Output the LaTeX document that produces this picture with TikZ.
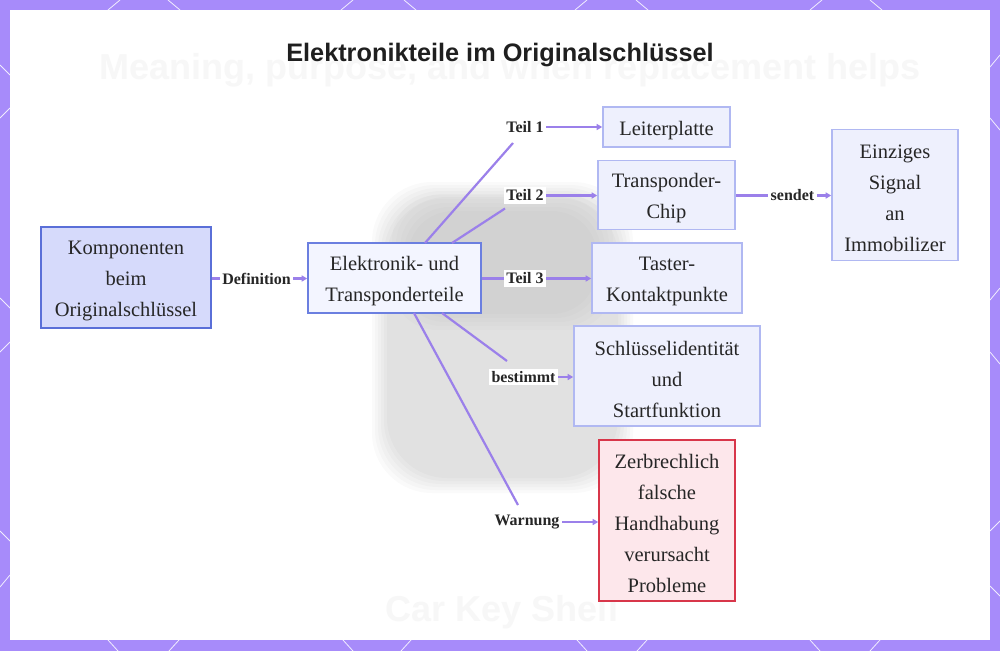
\documentclass[tikz,border=0pt]{standalone}
\usepackage{fontspec}
\setmainfont{Liberation Serif}
\newfontfamily\headfont{Liberation Sans}
\usetikzlibrary{arrows.meta,calc}
\definecolor{framec}{HTML}{A78BFA}
\definecolor{edgec}{HTML}{9B80EA}
\definecolor{kompfill}{HTML}{D6DAFB}
\definecolor{kompdraw}{HTML}{5A6FD8}
\definecolor{elekfill}{HTML}{F3F5FF}
\definecolor{elekdraw}{HTML}{6B7FE0}
\definecolor{leaffill}{HTML}{EEF0FD}
\definecolor{leafdraw}{HTML}{B0B8F2}
\definecolor{warnfill}{HTML}{FDE7EB}
\definecolor{warndraw}{HTML}{D8364A}
\newcommand\topstrut{\rule{0pt}{20.5pt}}
\tikzset{
  box/.style={draw, line width=1.6pt, inner sep=0pt, align=center,
    text=black!85, font=\fontsize{20.5}{31}\selectfont},
  kompbox/.style={box, fill=kompfill, draw=kompdraw},
  elekbox/.style={box, fill=elekfill, draw=elekdraw},
  leafbox/.style={box, fill=leaffill, draw=leafdraw},
  warnbox/.style={box, fill=warnfill, draw=warndraw},
  lbl/.style={fill=white, inner sep=2.5pt, text=black!85,
    font=\bfseries\fontsize{16}{18}\selectfont},
  conn/.style={draw=edgec, line width=2.2pt},
  arr/.style={conn, -{Triangle[length=5.5pt,width=6pt]}},
  hexline/.style={white, line width=0.8pt, opacity=0.85},
  ghost/.style={text=black!3, font=\headfont\bfseries\fontsize{36}{40}\selectfont}
}
\begin{document}
\begin{tikzpicture}[x=1pt,y=-1pt]
\useasboundingbox (0,0) rectangle (1000,651);
% frame
\fill[framec] (0,0) rectangle (1000,651);
\fill[white] (10,10) rectangle (990,640);
\foreach \a/\b/\c/\d in {120/0/108/10, 168/0/180/10, 353/0/341/10, 404/0/416/10,
  587/0/575/10, 636/0/648/10, 822/0/810/10, 870/0/882/10,
  108/640/118/651, 179/640/169/651, 343/640/353/651, 411/640/401/651,
  577/640/587/651, 647/640/637/651, 810/640/820/651, 880/640/870/651,
  0/65/10/75, 10/108/0/118, 0/298/10/308, 10/342/0/352, 0/531/10/541, 10/575/0/587,
  990/67/1000/55, 990/118/1000/130, 990/300/1000/288, 990/352/1000/364,
  990/531/1000/521, 990/586/1000/596}
  \draw[hexline] (\a,\b) -- (\c,\d);
% faint background picture
\foreach \i in {0,...,5}
  \fill[black, opacity=0.018, rounded corners=60pt]
    ({372+3*\i},{182+3*\i}) rectangle ({633-3*\i},{493-3*\i});
\foreach \i in {0,...,4}
  \fill[black, opacity=0.012, rounded corners=45pt]
    ({392+4*\i},{195+4*\i}) rectangle ({613-4*\i},{330-4*\i});
\node[ghost] (ghosttitle) at (510,70) {Meaning, purpose, and when replacement helps};
\node[ghost] (ghostcap) at (502,612) {Car Key Shell};
% title
\node[font=\headfont\bfseries\fontsize{25.3}{29}\selectfont, text=black!88] (title) at (500,55) {Elektronikteile im Originalschlüssel};
% nodes
\node[kompbox, minimum width=170pt, minimum height=101pt] (komp) at (126,277.5) {\topstrut Komponenten\\beim\\Originalschlüssel};
\node[elekbox, minimum width=173pt, minimum height=70pt] (elek) at (394.5,278) {\topstrut Elektronik- und\\Transponderteile};
\node[leafbox, minimum width=127pt, minimum height=40pt] (leit) at (666.5,127) {\topstrut Leiterplatte};
\node[leafbox, minimum width=137pt, minimum height=69pt] (trans) at (666.5,195) {\topstrut Transponder-\\Chip};
\node[leafbox, minimum width=150pt, minimum height=70pt] (taster) at (667,278) {\topstrut Taster-\\Kontaktpunkte};
\node[leafbox, minimum width=186pt, minimum height=100pt] (schl) at (667,376) {\topstrut Schlüsselidentität\\und\\Startfunktion};
\node[warnbox, minimum width=136pt, minimum height=161pt] (zerb) at (667,520.5) {\topstrut Zerbrechlich\\falsche\\Handhabung\\verursacht\\Probleme};
\node[leafbox, minimum width=126pt, minimum height=131pt] (einz) at (895,195) {\topstrut Einziges\\Signal\\an\\Immobilizer};
% labels
\node[lbl] (def) at (256.5,278.5) {Definition};
\node[lbl] (t1) at (525,127) {Teil 1};
\node[lbl] (t2) at (525,195.5) {Teil 2};
\node[lbl] (t3) at (525,278.5) {Teil 3};
\node[lbl] (best) at (523.5,377) {bestimmt};
\node[lbl] (warn) at (527,522) {Warnung};
\node[lbl] (send) at (792.5,195.5) {sendet};
% connectors
\draw[conn] (komp.east |- def.west) -- (def.west);
\draw[arr] (def.east) -- (def.east -| elek.west);
\draw[conn] ($(elek.center)+(30.5,-35)$) -- ($(t1.center)+(-12,16)$);
\draw[arr] (t1.east) -- (t1.east -| leit.west);
\draw[conn] ($(elek.center)+(57.5,-35)$) -- ($(t2.center)+(-20,13)$);
\draw[arr] (t2.east) -- (t2.east -| trans.west);
\draw[conn] (elek.east |- t3.west) -- (t3.west);
\draw[arr] (t3.east) -- (t3.east -| taster.west);
\draw[conn] ($(elek.center)+(47.5,35)$) -- ($(best.center)+(-16.5,-16)$);
\draw[arr] (best.east) -- (best.east -| schl.west);
\draw[conn] ($(elek.center)+(19.5,35)$) -- ($(warn.center)+(-9,-17)$);
\draw[arr] (warn.east) -- (warn.east -| zerb.west);
\draw[conn] (trans.east |- send.west) -- (send.west);
\draw[arr] (send.east) -- (send.east -| einz.west);
\end{tikzpicture}
\end{document}
